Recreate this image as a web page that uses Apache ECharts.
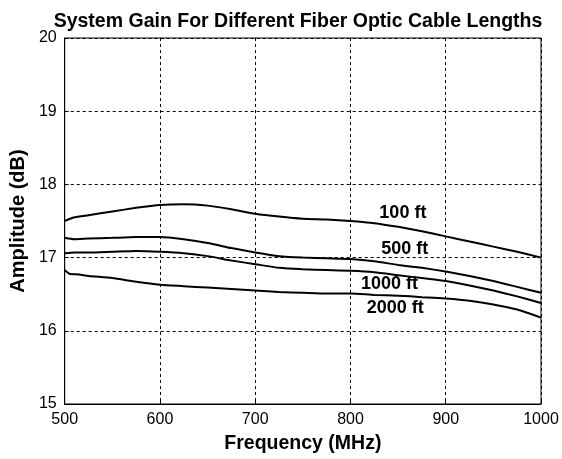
<!DOCTYPE html>
<html><head><meta charset="utf-8">
<script src="https://cdn.jsdelivr.net/npm/echarts@6/dist/echarts.min.js"></script>
<style>html,body{margin:0;padding:0;background:#fff}#c{width:562px;height:459px}</style>
</head><body><div id="c"></div>
<script>
const freq100 = [500,510,525,550,575,600,625,650,675,700,725,750,775,800,825,850,875,900,925,950,975,1000];
const gain100 = [17.50,17.55,17.58,17.63,17.68,17.72,17.73,17.71,17.66,17.60,17.56,17.53,17.52,17.50,17.47,17.42,17.36,17.29,17.22,17.15,17.08,17.00];
const freq500 = [500,510,525,550,575,600,625,650,675,700,725,750,775,800,825,850,875,900,925,950,975,1000];
const gain500 = [17.27,17.25,17.26,17.27,17.28,17.28,17.25,17.20,17.13,17.07,17.02,17.00,16.99,16.98,16.95,16.90,16.86,16.81,16.75,16.68,16.60,16.52];
const freq1000 = [500,510,525,550,575,600,625,650,675,700,725,750,775,800,825,850,875,900,925,950,975,1000];
const gain1000 = [17.06,17.07,17.07,17.08,17.09,17.08,17.06,17.02,16.96,16.91,16.86,16.84,16.83,16.82,16.80,16.76,16.72,16.68,16.62,16.55,16.47,16.38];
const freq2000 = [500,505,515,525,550,575,600,625,650,675,700,725,750,775,800,825,850,875,900,925,950,975,1000];
const gain2000 = [16.83,16.78,16.77,16.75,16.72,16.67,16.63,16.61,16.59,16.57,16.55,16.53,16.52,16.51,16.51,16.49,16.48,16.46,16.44,16.41,16.36,16.29,16.18];
const seriesNames = ['100 ft','500 ft','1000 ft','2000 ft'];
// annotation anchor points (freq, dB) for curve labels
const labelFreq = [855, 857, 841, 847];
const labelGain = [17.61, 17.12, 16.635, 16.31];
const xTicks = [500,600,700,800,900,1000];
const yTicks = [15,16,17,18,19,20];

const zip = (a,b) => a.map((v,i)=>[v,b[i]]);
const allData = [zip(freq100,gain100), zip(freq500,gain500), zip(freq1000,gain1000), zip(freq2000,gain2000)];
const font = 'Liberation Sans, Arial, sans-serif';

const series = allData.map((d,i)=>({
  type:'line', name: seriesNames[i], data:d, showSymbol:false, symbol:'none',
  lineStyle:{color:'#000', width:2}, smooth:0.2, silent:true
}));

const chart = echarts.init(document.getElementById('c'));
chart.setOption({
  animation:false,
  backgroundColor:'#fff',
  title:{text:'System Gain For Different Fiber Optic Cable Lengths', left:293, top:7, textAlign:'center',
    textStyle:{fontFamily:font, fontWeight:'bold', fontSize:19.5, color:'#000'}},
  grid:{left:64, right:21, top:38, bottom:48, show:true, borderColor:'#000', borderWidth:1, backgroundColor:'transparent'},
  xAxis:{type:'value', min:500, max:1000, interval:100,
    name:'Frequency (MHz)', nameLocation:'middle', nameGap:30,
    nameTextStyle:{fontFamily:font, fontWeight:'bold', fontSize:19.5, color:'#000'},
    axisLine:{show:true, lineStyle:{color:'#000'}},
    axisTick:{show:true, inside:true, length:4, lineStyle:{color:'#000'}},
    axisLabel:{fontFamily:font, fontSize:16, color:'#000', margin:8, formatter:v=>String(v)},
    splitLine:{show:true, lineStyle:{color:'#000', type:[3,3], width:1}}},
  yAxis:{type:'value', min:15, max:20, interval:1,
    name:'Amplitude (dB)', nameLocation:'middle', nameGap:32,
    nameTextStyle:{fontFamily:font, fontWeight:'bold', fontSize:20, color:'#000'},
    axisLine:{show:true, lineStyle:{color:'#000'}},
    axisTick:{show:true, inside:true, length:4, lineStyle:{color:'#000'}},
    axisLabel:{fontFamily:font, fontSize:16, color:'#000', margin:8, formatter:v=>String(v)},
    splitLine:{show:true, lineStyle:{color:'#000', type:[3,3], width:1}}},
  series: series
});
const texts = seriesNames.map((name,i)=>{
  const p = chart.convertToPixel({gridIndex:0}, [labelFreq[i], labelGain[i]]);
  return {type:'text', x:p[0], y:p[1], silent:true, z:10,
    style:{text:name, fill:'#000', font:'bold 18px ' + font, textAlign:'center', textVerticalAlign:'middle'}};
});
chart.setOption({graphic:texts});
</script></body></html>
